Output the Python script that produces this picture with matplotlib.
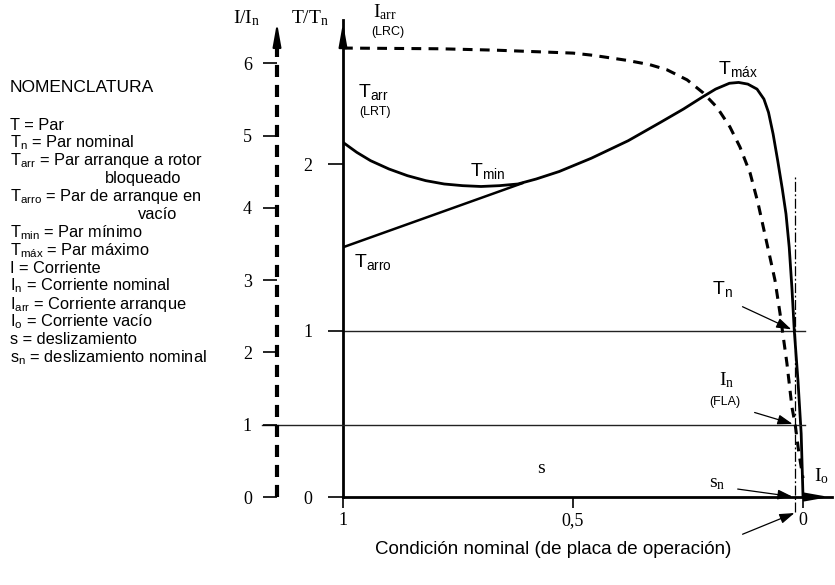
import matplotlib.pyplot as plt

plt.rcParams['mathtext.default'] = 'regular'
plt.rcParams['font.family'] = 'Liberation Serif'
SANS = 'Liberation Sans'

# slip axis (1 = rotor bloqueado, 0 = velocidad sincrona)
s_ticks = [1, 0.5, 0]
s_tick_labels = ['1', '0,5', '0']
t_ticks = [0, 1, 2]
i_ticks = [0, 1, 2, 3, 4, 5, 6]

# par T/Tn en funcion del deslizamiento
s_torque = [1.0, 0.97, 0.94, 0.90, 0.86, 0.82, 0.78, 0.74, 0.70, 0.66,
            0.62, 0.58, 0.53, 0.46, 0.38, 0.31, 0.26, 0.22, 0.19, 0.16,
            0.14, 0.12, 0.10, 0.085, 0.075, 0.065, 0.055, 0.045, 0.037, 0.030,
            0.024, 0.019, 0.011, 0.004, 0.0]
t_torque = [2.13, 2.07, 2.02, 1.97, 1.93, 1.90, 1.88, 1.87, 1.865, 1.87,
            1.88, 1.91, 1.955, 2.035, 2.14, 2.25, 2.33, 2.40, 2.45, 2.485,
            2.49, 2.48, 2.45, 2.39, 2.31, 2.18, 2.02, 1.85, 1.70, 1.50,
            1.25, 1.0, 0.70, 0.38, 0.0]

# par de arranque en vacio
s_tarro = [1.0, 0.61]
t_tarro = [1.50, 1.885]

# corriente I/In
s_current = [1.0, 0.789, 0.665, 0.5, 0.457, 0.383, 0.333, 0.296, 0.252, 0.217,
             0.187, 0.159, 0.137, 0.115, 0.098, 0.072, 0.061, 0.050, 0.035, 0.024,
             0.017, 0.009, 0.0]
i_current = [6.21, 6.20, 6.18, 6.14, 6.11, 6.04, 5.98, 5.91, 5.77, 5.59,
             5.39, 5.12, 4.84, 4.48, 4.07, 3.32, 3.00, 2.54, 1.85, 1.24,
             1.0, 0.61, 0.26]

s_nominal = 0.017

nomenclatura = [
    ('T = Par', 0),
    ('T$_n$ = Par nominal', 0),
    ('T$_{arr}$ = Par arranque a rotor', 0),
    ('bloqueado', 95),
    ('T$_{arro}$ = Par de arranque en', 0),
    ('vacío', 128),
    ('T$_{min}$ = Par mínimo', 0),
    ('T$_{máx}$ = Par máximo', 0),
    ('I = Corriente', 0),
    ('I$_n$ = Corriente nominal', 0),
    ('I$_{arr}$ = Corriente arranque', 0),
    ('I$_o$ = Corriente vacío', 0),
    ('s = deslizamiento', 0),
    ('s$_n$ = deslizamiento nominal', 0),
]

W, H = 835, 585
T_TOP = 2.865
I_TOP = 6.598
fig = plt.figure(figsize=(W / 100, H / 100), dpi=100)
ax = fig.add_axes([343 / W, (H - 497) / H, (832 - 343) / W, (497 - 20) / H])
ax.set_xlim(1, -0.063)
ax.set_ylim(0, T_TOP)

# curva de corriente con su propia escala vertical
ax2 = ax.twinx()
ax2.set_ylim(0, I_TOP)
ax2.axis('off')

# eje I/In discontinuo a la izquierda
axi = fig.add_axes([277 / W, (H - 497) / H, 0.001, (497 - 20) / H])
axi.set_ylim(0, I_TOP)
axi.set_xticks([])
for side in ['top', 'right', 'bottom']:
    axi.spines[side].set_visible(False)
axi.patch.set_visible(False)
axi.spines['left'].set_bounds(0, 6.3)
axi.spines['left'].set_linewidth(3)
axi.spines['left'].set_capstyle('butt')
axi.spines['left'].set_linestyle((0, (2.9, 1.9)))
axi.set_yticks(i_ticks)
axi.tick_params(axis='y', direction='out', length=10, width=1.2, pad=8, labelsize=13)

# ejes principales
for side in ['top', 'right']:
    ax.spines[side].set_visible(False)
ax.spines['left'].set_linewidth(2)
ax.spines['bottom'].set_linewidth(2)
ax.set_xticks(s_ticks)
ax.set_xticklabels(s_tick_labels)
ax.set_yticks(t_ticks)
ax.tick_params(axis='x', direction='out', length=8, width=1.2, pad=3, labelsize=13)
ax.tick_params(axis='y', direction='out', length=11, width=1.2, pad=11, labelsize=13)

arrow = dict(arrowstyle='-|>,head_length=1.4,head_width=0.25', color='black', lw=1.5)
ax.annotate('', xy=(1, T_TOP), xytext=(1, 2.7), arrowprops=arrow, annotation_clip=False)
ax.annotate('', xy=(-0.063, 0), xytext=(-0.02, 0), arrowprops=arrow, annotation_clip=False)
axi.annotate('', xy=(0, 6.6), xytext=(0, 6.2), xycoords=('axes fraction', 'data'),
             arrowprops=arrow, annotation_clip=False)

# lineas de referencia
ax.plot([1, -0.004], [1, 1], color='#222222', lw=1.0)
ax2.plot([1.176, -0.004], [1, 1], color='#222222', lw=1.0, clip_on=False)
ax.plot([s_nominal, s_nominal], [-0.09, 1.93], color='black', lw=0.9,
        linestyle=(0, (8, 2, 1.5, 2)), clip_on=False)

# curvas
ax.plot(s_torque, t_torque, color='black', lw=2.0, solid_joinstyle='round')
ax.plot(s_tarro, t_tarro, color='black', lw=1.8)
ax2.plot(s_current, i_current, color='black', lw=2.2, linestyle=(0, (3.2, 2.4)))

# etiquetas de las curvas
ax.text(0.935, 2.43, 'T$_{arr}$', family=SANS, fontsize=14, ha='center', va='center')
ax.text(0.930, 2.31, '(LRT)', family=SANS, fontsize=9, ha='center', va='center')
ax.text(0.685, 1.96, 'T$_{min}$', family=SANS, fontsize=14, ha='center', va='center')
ax.text(0.935, 1.41, 'T$_{arro}$', family=SANS, fontsize=14, ha='center', va='center')
ax.text(0.141, 2.57, 'T$_{máx}$', family=SANS, fontsize=14, ha='center', va='center')
ax2.text(0.909, 6.70, 'I$_{arr}$', fontsize=14, ha='center', va='center')
ax2.text(0.902, 6.43, '(LRC)', family=SANS, fontsize=9, ha='center', va='center')
ax.text(0.57, 0.17, 's', fontsize=14, ha='center', va='center')
ax2.text(-0.039, 0.29, 'I$_o$', fontsize=14, ha='center', va='center')

small_arrow = dict(arrowstyle='-|>,head_length=0.9,head_width=0.3', color='black', lw=0.9)
ax.text(0.176, 1.25, 'T$_n$', family=SANS, fontsize=14, ha='center', va='center')
ax.annotate('', xy=(0.020, 1.0), xytext=(0.137, 1.15), arrowprops=small_arrow)
ax2.text(0.165, 1.62, 'I$_n$', fontsize=14, ha='center', va='center')
ax2.text(0.170, 1.31, '(FLA)', family=SANS, fontsize=9, ha='center', va='center')
ax2.annotate('', xy=(s_nominal, 1.0), xytext=(0.111, 1.18), arrowprops=small_arrow)
ax.text(0.186, 0.08, 's$_n$', fontsize=14, ha='center', va='center')
ax.annotate('', xy=(s_nominal, 0.0), xytext=(0.148, 0.05), arrowprops=small_arrow,
            annotation_clip=False)
ax.annotate('', xy=(0.013, -0.09), xytext=(0.137, -0.23), arrowprops=small_arrow,
            annotation_clip=False)

fig.text(553 / W, 1 - 550 / H, 'Condición nominal (de placa de operación)',
         family=SANS, fontsize=13.5, ha='center', va='center')

# nombres de los ejes
fig.text(247 / W, 1 - 18 / H, 'I/I$_n$', fontsize=14, ha='center', va='center')
fig.text(310 / W, 1 - 18 / H, 'T/T$_n$', fontsize=14, ha='center', va='center')

# nomenclatura
fig.text(10 / W, 1 - 88 / H, 'NOMENCLATURA', family=SANS, fontsize=12.5, va='center')
for k, (line, indent) in enumerate(nomenclatura):
    y = 125 + 17.9 * k
    fig.text((10 + indent) / W, 1 - y / H, line, family=SANS, fontsize=11.8,
             va='center')

fig.savefig('out.png', dpi=100)
